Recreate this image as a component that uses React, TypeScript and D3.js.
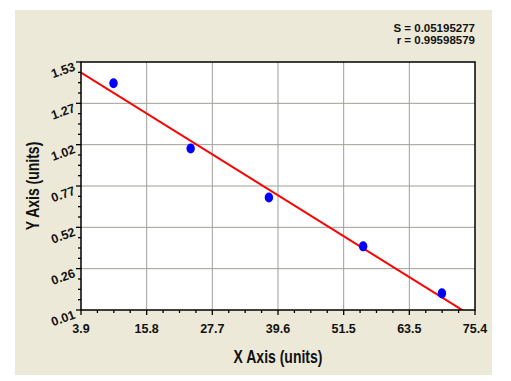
import React from "react";
import * as d3 from "d3";

const xTickLabels = ["3.9", "15.8", "27.7", "39.6", "51.5", "63.5", "75.4"];
const yTickLabels = ["0.01", "0.26", "0.52", "0.77", "1.02", "1.27", "1.53"];
const xDomain = [3.9, 75.4];
const yDomain = [0.01, 1.53];
const pointX = [9.8, 23.8, 38.0, 55.1, 69.4];
const pointY = [1.4, 1.0, 0.7, 0.4, 0.112];
const statLines = ["S = 0.05195277", "r = 0.99598579"];
const xTitle = "X Axis (units)";
const yTitle = "Y Axis (units)";

const W = 511;
const H = 381;
const plot = { left: 81, top: 62, right: 475, bottom: 310 };
const FONT = "'Liberation Sans', Arial, sans-serif";

export default function App() {
  const x = d3.scaleLinear().domain(xDomain).range([plot.left, plot.right]);
  const y = d3.scaleLinear().domain(yDomain).range([plot.bottom, plot.top]);

  const nMajor = xTickLabels.length - 1;
  const xMajor = d3.range(nMajor + 1).map((i) => xDomain[0] + (i * (xDomain[1] - xDomain[0])) / nMajor);
  const yMajor = d3.range(nMajor + 1).map((i) => yDomain[0] + (i * (yDomain[1] - yDomain[0])) / nMajor);
  const xMinor = d3.range(nMajor * 4 + 1).map((i) => xDomain[0] + (i * (xDomain[1] - xDomain[0])) / (nMajor * 4));
  const yMinor = d3.range(nMajor * 4 + 1).map((i) => yDomain[0] + (i * (yDomain[1] - yDomain[0])) / (nMajor * 4));

  // linear regression fit
  const mx = d3.mean(pointX) as number;
  const my = d3.mean(pointY) as number;
  let sxy = 0;
  let sxx = 0;
  pointX.forEach((v, i) => {
    sxy += (v - mx) * (pointY[i] - my);
    sxx += (v - mx) * (v - mx);
  });
  const slope = sxy / sxx;
  const intercept = my - slope * mx;
  const fit: [number, number][] = [xDomain[0], xDomain[1]].map((v) => [v, intercept + slope * v]);
  const line = d3
    .line<[number, number]>()
    .x((d) => x(d[0]))
    .y((d) => y(d[1]));

  return (
    <svg
      width={W}
      height={H}
      style={{ position: "absolute", left: 0, top: 0, background: "#ffffff" }}
      fontFamily={FONT}
    >
      <defs>
        <clipPath id="plotclip">
          <rect x={plot.left} y={plot.top} width={plot.right - plot.left} height={plot.bottom - plot.top} />
        </clipPath>
      </defs>
      <rect x={15} y={10} width={477} height={365} fill="#ECE9D8" />
      <rect
        x={plot.left}
        y={plot.top}
        width={plot.right - plot.left}
        height={plot.bottom - plot.top}
        fill="#ffffff"
      />
      {/* grid */}
      {xMajor.slice(1, -1).map((v, i) => (
        <line key={"gx" + i} x1={x(v)} x2={x(v)} y1={plot.top} y2={plot.bottom} stroke="#a09f98" strokeWidth={1} />
      ))}
      {yMajor.slice(1, -1).map((v, i) => (
        <line key={"gy" + i} x1={plot.left} x2={plot.right} y1={y(v)} y2={y(v)} stroke="#a09f98" strokeWidth={1} />
      ))}
      {/* fit line */}
      <path d={line(fit) || ""} fill="none" stroke="#ff0000" strokeWidth={2} clipPath="url(#plotclip)" />
      {/* points */}
      {pointX.map((v, i) => (
        <ellipse key={"p" + i} cx={x(v)} cy={y(pointY[i])} rx={4.2} ry={5} fill="#0000ff" />
      ))}
      {/* frame */}
      <rect
        x={plot.left}
        y={plot.top}
        width={plot.right - plot.left}
        height={plot.bottom - plot.top}
        fill="none"
        stroke="#000"
        strokeWidth={1.5}
      />
      {/* x ticks */}
      {xMinor.map((v, i) => (
        <line
          key={"xt" + i}
          x1={x(v)}
          x2={x(v)}
          y1={plot.bottom}
          y2={plot.bottom + (i % 4 === 0 ? 5 : 3)}
          stroke="#000"
          strokeWidth={1.3}
        />
      ))}
      {yMinor.map((v, i) => (
        <line
          key={"yt" + i}
          x1={plot.left}
          x2={plot.left - (i % 4 === 0 ? 5 : 3)}
          y1={y(v)}
          y2={y(v)}
          stroke="#000"
          strokeWidth={1.3}
        />
      ))}
      {/* x tick labels */}
      {xMajor.map((v, i) => (
        <text
          key={"xl" + i}
          x={x(v)}
          y={333}
          textAnchor="middle"
          fontSize={12.5}
          fontWeight="bold"
          fill="#111"
        >
          {xTickLabels[i]}
        </text>
      ))}
      {/* y tick labels */}
      {yMajor.map((v, i) => (
        <text
          key={"yl" + i}
          transform={`translate(76,${y(v) + 8}) rotate(-20)`}
          textAnchor="end"
          fontSize={12.5}
          fontWeight="bold"
          fill="#111"
        >
          {yTickLabels[i]}
        </text>
      ))}
      {/* stats */}
      {statLines.map((s, i) => (
        <text
          key={"s" + i}
          x={475}
          y={32.3 + i * 12}
          textAnchor="end"
          fontSize={11.5}
          fontWeight="bold"
          fill="#111"
        >
          {s}
        </text>
      ))}
      {/* axis titles */}
      <g transform={`translate(${(plot.left + plot.right) / 2},362.7) scale(1,1.25)`}>
        <text textAnchor="middle" fontSize={14} fontWeight="bold" fill="#111">
          {xTitle}
        </text>
      </g>
      <g transform={`translate(38.5,${(plot.top + plot.bottom) / 2}) rotate(-90) scale(1,1.25)`}>
        <text textAnchor="middle" fontSize={14} fontWeight="bold" fill="#111">
          {yTitle}
        </text>
      </g>
    </svg>
  );
}
